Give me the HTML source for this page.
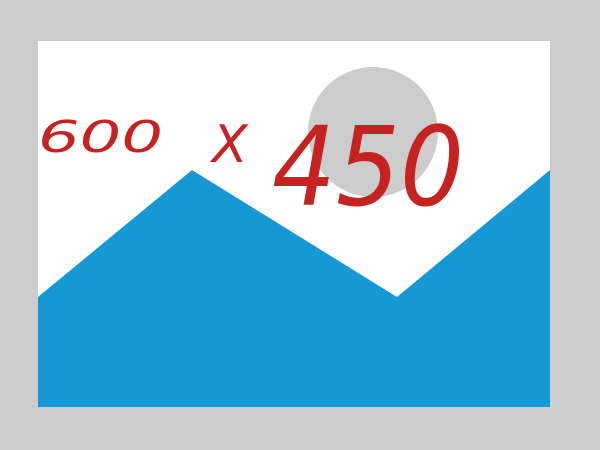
<!DOCTYPE html>
<html>
<head>
<meta charset="utf-8">
<style>
  html,body{margin:0;padding:0;width:600px;height:450px;overflow:hidden;background:#cccccc;}
  svg{display:block;}
</style>
</head>
<body>
<svg width="600" height="450" viewBox="0 0 600 450" xmlns="http://www.w3.org/2000/svg">
  <rect x="0" y="0" width="600" height="450" fill="#cccccc"/>
  <rect x="38" y="41" width="512" height="366" fill="#ffffff"/>
  <circle cx="373" cy="132" r="65" fill="#cccccc"/>
  <polygon points="38,297 192,170 397,297 550,170 550,407 38,407" fill="#1598d3"/>
  <g fill="#c62222" font-family="'DejaVu Sans', 'Liberation Sans', sans-serif" font-weight="200" font-style="italic">
    <text x="38" y="152" font-size="44" textLength="125" lengthAdjust="spacingAndGlyphs">600</text>
    <text x="212" y="162" font-size="52">X</text>
    <text x="272" y="205" font-size="110" textLength="192" lengthAdjust="spacingAndGlyphs">450</text>
  </g>
</svg>
</body>
</html>
